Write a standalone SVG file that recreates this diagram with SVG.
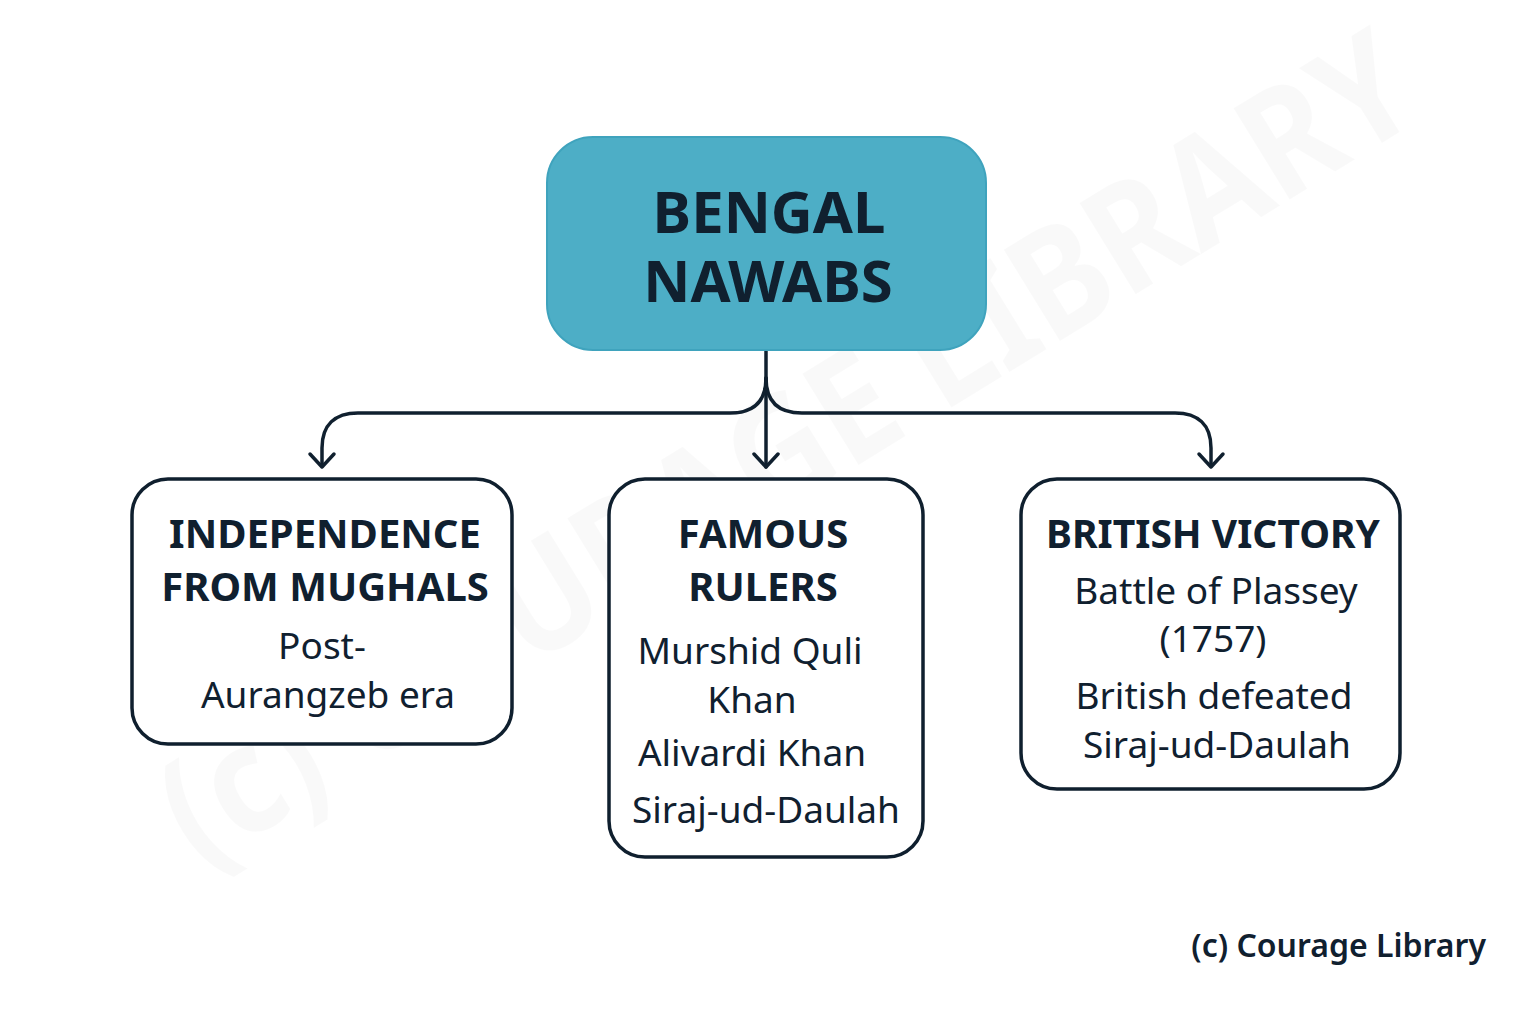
<svg xmlns="http://www.w3.org/2000/svg" width="1536" height="1024" viewBox="0 0 1536 1024">
<defs>
<style>
.box{fill:#ffffff;stroke:#0f1f2e;stroke-width:3.5}
.root{fill:#4daec6;stroke:#3fa3bd;stroke-width:2}
.h{font-family:"Noto Sans","Open Sans",sans-serif;font-weight:700;fill:#10202f;text-anchor:middle}
.t{font-family:"Noto Sans","Open Sans",sans-serif;font-weight:400;fill:#10202f;text-anchor:middle;font-size:37px}
.c{fill:none;stroke:#10202f;stroke-width:3.5;stroke-linecap:round;stroke-linejoin:round}
.wm{font-family:"Noto Sans",sans-serif;font-weight:700;fill:#000;fill-opacity:0.022;font-size:150px}
</style>
</defs>
<rect width="1536" height="1024" fill="#ffffff"/>
<text class="wm" transform="translate(200,870) rotate(-31.6)" textLength="1440" lengthAdjust="spacingAndGlyphs">(c) COURAGE LIBRARY</text>
<g id="connectors">
<path class="c" d="M766 350 V467"/>
<path class="c" d="M754 454 L766 467 L778 454"/>
<path class="c" d="M766 378 C766 400 755 413 730 413 H358 C335 413 322 425 322 448 V466"/>
<path class="c" d="M310 454 L322 467 L334 454"/>
<path class="c" d="M766 378 C766 400 777 413 802 413 H1175 C1198 413 1211 425 1211 448 V466"/>
<path class="c" d="M1199 454 L1211 467 L1223 454"/>
</g>
<g id="root">
<rect class="root" x="547" y="137" width="439" height="213" rx="46"/>
<text class="h" x="769" y="233" font-size="58">BENGAL</text>
<text class="h" x="768" y="302" font-size="58">NAWABS</text>
</g>
<g id="independence">
<rect class="box" x="132" y="479" width="380" height="265" rx="36"/>
<text class="h" x="325" y="548" font-size="40">INDEPENDENCE</text>
<text class="h" x="325" y="601" font-size="40">FROM MUGHALS</text>
<text class="t" x="322" y="659">Post-</text>
<text class="t" x="328" y="708">Aurangzeb era</text>
</g>
<g id="rulers">
<rect class="box" x="609" y="479" width="314" height="378" rx="36"/>
<text class="h" x="763" y="548" font-size="40">FAMOUS</text>
<text class="h" x="763" y="601" font-size="40">RULERS</text>
<text class="t" x="750" y="664">Murshid Quli</text>
<text class="t" x="752" y="713">Khan</text>
<text class="t" x="752" y="766">Alivardi Khan</text>
<text class="t" x="766" y="823">Siraj-ud-Daulah</text>
</g>
<g id="british">
<rect class="box" x="1021" y="479" width="379" height="310" rx="36"/>
<text class="h" x="1213" y="548" font-size="39">BRITISH VICTORY</text>
<text class="t" x="1216" y="604">Battle of Plassey</text>
<text class="t" x="1213" y="652">(1757)</text>
<text class="t" x="1214" y="709">British defeated</text>
<text class="t" x="1217" y="758">Siraj-ud-Daulah</text>
</g>
<text x="1486" y="957" text-anchor="end" font-family="Noto Sans, Open Sans, sans-serif" font-weight="600" font-size="32" fill="#10202f">(c) Courage Library</text>
</svg>
